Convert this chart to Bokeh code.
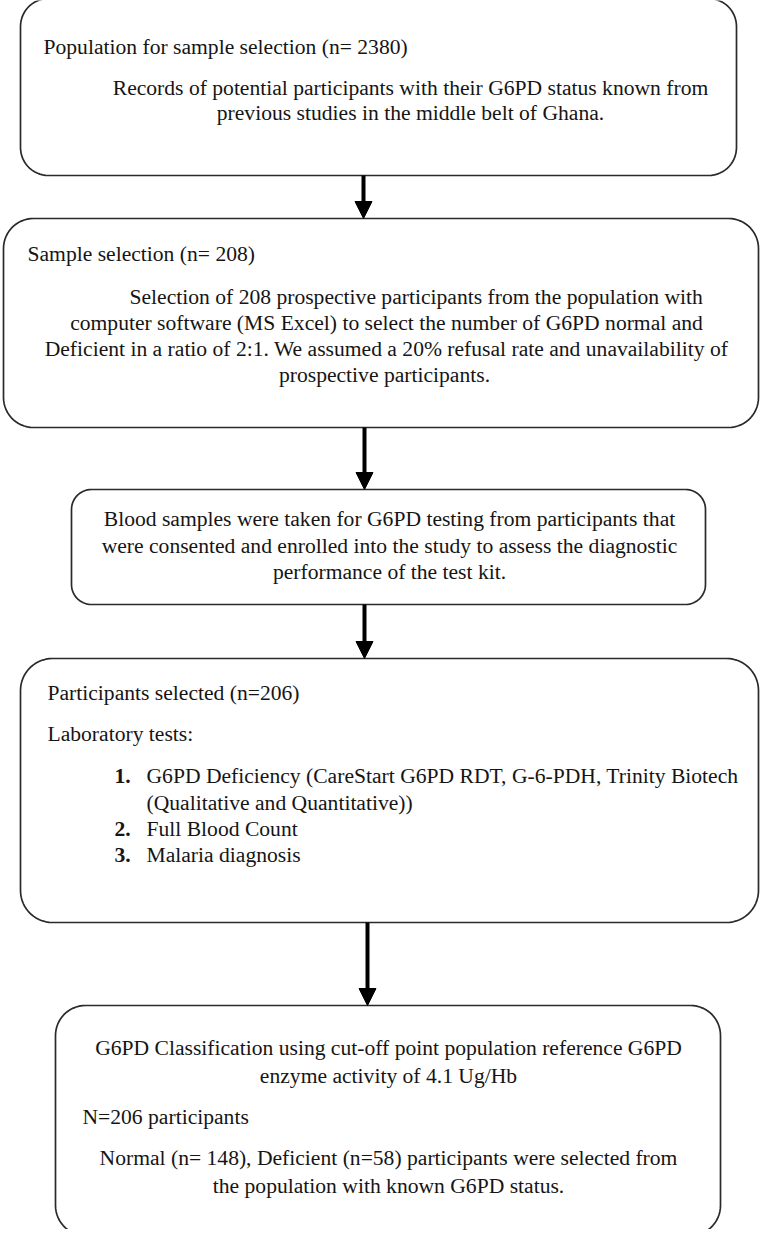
import numpy as np
from bokeh.plotting import figure
from bokeh.models import Range1d, ColumnDataSource
from bokeh.core.properties import value
from bokeh.embed import file_html
from bokeh.resources import INLINE

# ---- content (text of the flowchart) ----
box1_lines = ["Population for sample selection (n= 2380)",
              "Records of potential participants with their G6PD status known from",
              "previous studies in the middle belt of Ghana."]
box2_lines = ["Sample selection (n= 208)",
              "Selection of 208 prospective participants from the population with",
              "computer software (MS Excel) to select the number of G6PD normal and",
              "Deficient in a ratio of 2:1. We assumed a 20% refusal rate and unavailability of",
              "prospective participants."]
box3_lines = ["Blood samples were taken for G6PD testing from participants that",
              "were consented and enrolled into the study to assess the diagnostic",
              "performance of the test kit."]
box4_lines = ["Participants selected (n=206)",
              "Laboratory tests:",
              "G6PD Deficiency (CareStart G6PD RDT, G-6-PDH, Trinity Biotech",
              "(Qualitative and Quantitative))",
              "Full Blood Count",
              "Malaria diagnosis"]
list_numbers = ["1.", "2.", "3."]
box5_lines = ["G6PD Classification using cut-off point population reference G6PD",
              "enzyme activity of 4.1 Ug/Hb",
              "N=206 participants",
              "Normal (n= 148), Deficient (n=58) participants were selected from",
              "the population with known G6PD status."]

# ---- layout (page pixel coordinates, y downward) ----
box_left   = [28, 11, 79, 28, 63]
box_right  = [744, 766, 713, 766, 728]
box_top    = [6, 226, 497, 666, 1013]
box_bottom = [183, 435, 612, 930, 1243]
box_radius = [28, 30, 20, 32, 30]

arrow_x     = [371, 372, 372, 375]
arrow_start = [183, 435, 612, 930]
arrow_end   = [226, 497, 666, 1013]

# text placements: (text, x, y, align)
plain_text = [
    (box1_lines[0], 51, 54, "left"),
    (box1_lines[1], 418, 95, "center"),
    (box1_lines[2], 418, 120, "center"),
    (box2_lines[0], 35, 261, "left"),
    (box2_lines[1], 137, 304, "left"),
    (box2_lines[2], 394, 330, "center"),
    (box2_lines[3], 394, 356, "center"),
    (box2_lines[4], 392, 382, "center"),
    (box3_lines[0], 397, 526, "center"),
    (box3_lines[1], 397, 553, "center"),
    (box3_lines[2], 397, 579, "center"),
    (box4_lines[0], 55, 700, "left"),
    (box4_lines[1], 55, 741, "left"),
    (box4_lines[2], 154, 783, "left"),
    (box4_lines[3], 154, 810, "left"),
    (box4_lines[4], 154, 836, "left"),
    (box4_lines[5], 154, 862, "left"),
    (box5_lines[0], 396, 1055, "center"),
    (box5_lines[1], 396, 1083, "center"),
    (box5_lines[2], 90, 1124, "left"),
    (box5_lines[3], 396, 1165, "center"),
    (box5_lines[4], 396, 1193, "center"),
]
bold_text = [
    (list_numbers[0], 122, 783, "left"),
    (list_numbers[1], 122, 836, "left"),
    (list_numbers[2], 122, 862, "left"),
]

FONT = "Liberation Serif"
FSIZE = "21.6px"
INK = "#151515"

W, H = 760, 1229
p = figure(width=W, height=H, x_range=Range1d(8, 8 + W), y_range=Range1d(8 + H, 8),
           output_backend="svg", toolbar_location=None, min_border=0,
           x_axis_location=None, y_axis_location=None)
p.grid.visible = False
p.outline_line_color = None
p.background_fill_color = "white"
p.border_fill_color = "white"


def rounded_rect(l, r, t, b, rad, n=16):
    xs, ys = [], []
    corners = [((r - rad, t + rad), -np.pi / 2, 0.0),
               ((r - rad, b - rad), 0.0, np.pi / 2),
               ((l + rad, b - rad), np.pi / 2, np.pi),
               ((l + rad, t + rad), np.pi, 1.5 * np.pi)]
    for (cx, cy), a0, a1 in corners:
        a = np.linspace(a0, a1, n)
        xs.extend(cx + rad * np.cos(a))
        ys.extend(cy + rad * np.sin(a))
    return xs, ys


bx, by = [], []
for l, r, t, b, rad in zip(box_left, box_right, box_top, box_bottom, box_radius):
    xs, ys = rounded_rect(l, r, t, b, rad)
    bx.append(xs)
    by.append(ys)
p.patches(bx, by, fill_color="white", line_color="#2a2a2a", line_width=1.7)

# arrows
HEAD_LEN, HEAD_W = 17, 17
p.segment(x0=arrow_x, y0=arrow_start, x1=arrow_x,
          y1=[e - HEAD_LEN + 2 for e in arrow_end], line_color="black", line_width=4)
hx = [[x - HEAD_W / 2, x + HEAD_W / 2, x] for x in arrow_x]
hy = [[e - HEAD_LEN, e - HEAD_LEN, e] for e in arrow_end]
p.patches(hx, hy, fill_color="black", line_color="black", line_width=1)

for group, style in ((plain_text, "normal"), (bold_text, "bold")):
    for align in ("left", "center"):
        rows = [g for g in group if g[3] == align]
        if not rows:
            continue
        src = ColumnDataSource(dict(text=[g[0] for g in rows], x=[g[1] for g in rows],
                                    y=[g[2] for g in rows]))
        p.text(x="x", y="y", text="text", source=src, text_font=value(FONT),
               text_font_size=FSIZE, text_font_style=style, text_color=INK,
               text_align=align, text_baseline="middle")

open("out.html", "w").write(file_html(p, INLINE))
